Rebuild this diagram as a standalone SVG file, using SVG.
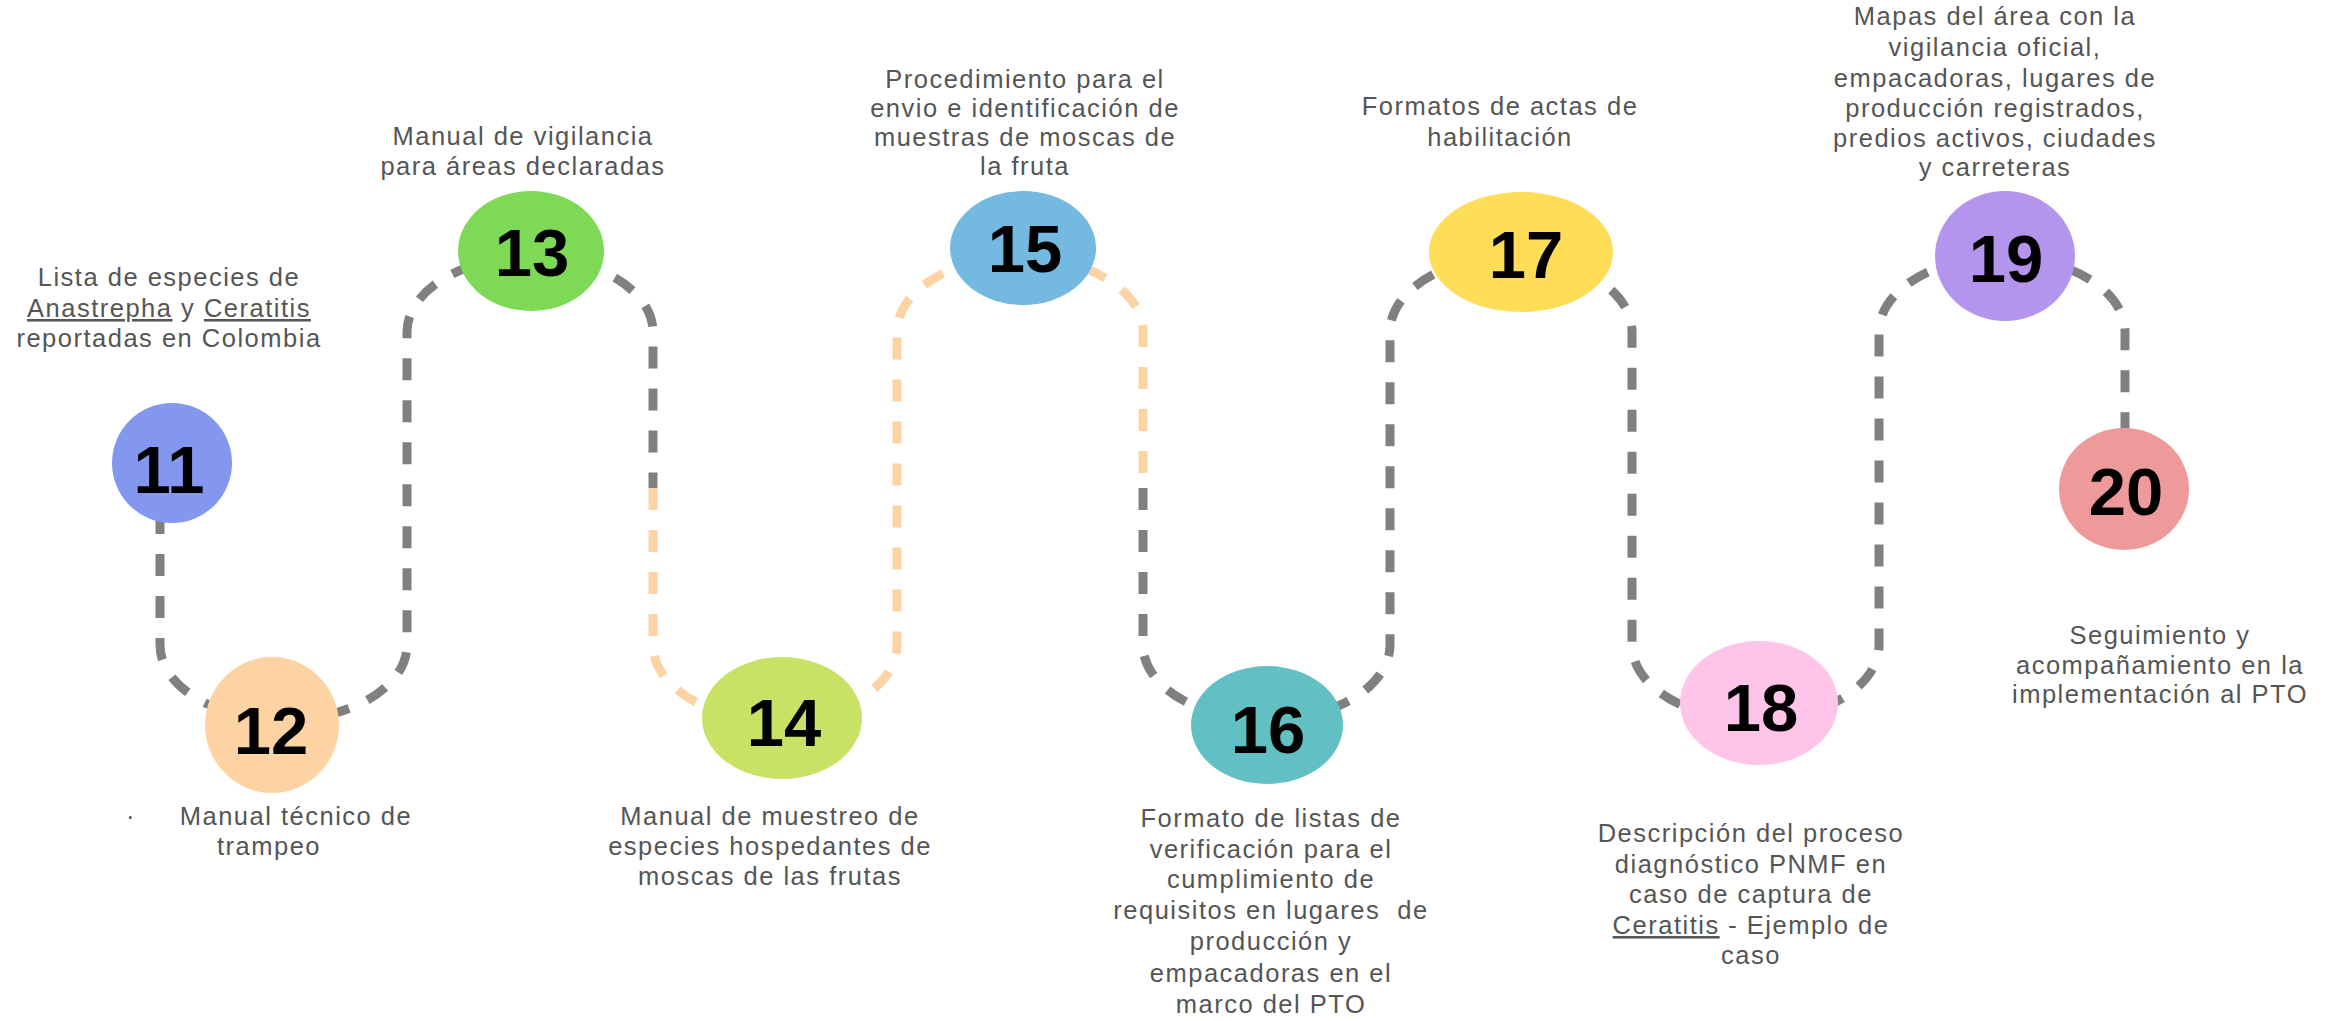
<svg xmlns="http://www.w3.org/2000/svg" width="2336" height="1021" viewBox="0 0 2336 1021">
<style>
.lbl{font-family:"Liberation Sans",Arial,sans-serif;font-size:25.5px;fill:#555555;text-anchor:middle;letter-spacing:1.5px}
.num{font-family:"Liberation Sans",Arial,sans-serif;font-weight:bold;font-size:67px;fill:#000000;text-anchor:middle}
.dash{fill:none;stroke-width:9;stroke-dasharray:22 20}
.gray{stroke:#808080}
.peach{stroke:#FDD3A3}
.u{text-decoration:underline}
</style>
<rect width="2336" height="1021" fill="#ffffff"/>
<g id="connectors">
<path class="dash gray" d="M 160 470 V 645 A 123.5 75 0 0 0 407 645 V 332 A 123 75 0 0 1 653 332 V 488"/>
<path class="dash peach" d="M 653 488 V 645 A 122 75 0 0 0 897 645 V 332 A 123 75 0 0 1 1143 332 V 488"/>
<path class="dash gray" d="M 1143 488 V 645 A 123.5 75 0 0 0 1390 645 V 332 A 121 75 0 0 1 1632 332 V 645 A 123.5 75 0 0 0 1879 645 V 332 A 123 75 0 0 1 2125 332 V 440"/>
</g>
<g id="node11">
<ellipse cx="172" cy="463" rx="60" ry="60" fill="#8497EE"/>
<text class="num" x="169" y="493">11</text>
<text class="lbl" x="169" y="286">Lista de especies de</text>
<text class="lbl" x="169" y="317"><tspan class="u">Anastrepha</tspan> y <tspan class="u">Ceratitis</tspan></text>
<text class="lbl" x="169" y="347">reportadas en Colombia</text>
</g>
<g id="node12">
<ellipse cx="272" cy="725" rx="67" ry="68" fill="#FDD3A3"/>
<text class="num" x="271" y="754">12</text>
<text class="lbl" x="131" y="825">·</text>
<text class="lbl" x="296" y="825">Manual técnico de</text>
<text class="lbl" x="269" y="855">trampeo</text>
</g>
<g id="node13">
<ellipse cx="531" cy="251" rx="73" ry="60" fill="#7ED957"/>
<text class="num" x="532" y="276">13</text>
<text class="lbl" x="523" y="145">Manual de vigilancia</text>
<text class="lbl" x="523" y="175">para áreas declaradas</text>
</g>
<g id="node14">
<ellipse cx="782" cy="718" rx="80" ry="61" fill="#C9E265"/>
<text class="num" x="784" y="746">14</text>
<text class="lbl" x="770" y="825">Manual de muestreo de</text>
<text class="lbl" x="770" y="855">especies hospedantes de</text>
<text class="lbl" x="770" y="885">moscas de las frutas</text>
</g>
<g id="node15">
<ellipse cx="1023" cy="248" rx="73" ry="57" fill="#73B9E0"/>
<text class="num" x="1025" y="272">15</text>
<text class="lbl" x="1025" y="88">Procedimiento para el</text>
<text class="lbl" x="1025" y="117">envio e identificación de</text>
<text class="lbl" x="1025" y="146">muestras de moscas de</text>
<text class="lbl" x="1025" y="175">la fruta</text>
</g>
<g id="node16">
<ellipse cx="1267" cy="725" rx="76" ry="59" fill="#62C0C4"/>
<text class="num" x="1268" y="753">16</text>
<text class="lbl" x="1271" y="827">Formato de listas de</text>
<text class="lbl" x="1271" y="858">verificación para el</text>
<text class="lbl" x="1271" y="888">cumplimiento de</text>
<text class="lbl" x="1271" y="919" xml:space="preserve">requisitos en lugares  de</text>
<text class="lbl" x="1271" y="950">producción y</text>
<text class="lbl" x="1271" y="982">empacadoras en el</text>
<text class="lbl" x="1271" y="1013">marco del PTO</text>
</g>
<g id="node17">
<ellipse cx="1521" cy="252" rx="92" ry="60" fill="#FFDD57"/>
<text class="num" x="1526" y="278">17</text>
<text class="lbl" x="1500" y="115">Formatos de actas de</text>
<text class="lbl" x="1500" y="146">habilitación</text>
</g>
<g id="node18">
<ellipse cx="1759" cy="703" rx="79" ry="62" fill="#FFC4EA"/>
<text class="num" x="1761" y="731">18</text>
<text class="lbl" x="1751" y="842">Descripción del proceso</text>
<text class="lbl" x="1751" y="873">diagnóstico PNMF en</text>
<text class="lbl" x="1751" y="903">caso de captura de</text>
<text class="lbl" x="1751" y="934"><tspan class="u">Ceratitis</tspan> - Ejemplo de</text>
<text class="lbl" x="1751" y="964">caso</text>
</g>
<g id="node19">
<ellipse cx="2005" cy="256" rx="70" ry="65" fill="#B494EC"/>
<text class="num" x="2006" y="282">19</text>
<text class="lbl" x="1995" y="25">Mapas del área con la</text>
<text class="lbl" x="1995" y="56">vigilancia oficial,</text>
<text class="lbl" x="1995" y="87">empacadoras, lugares de</text>
<text class="lbl" x="1995" y="117">producción registrados,</text>
<text class="lbl" x="1995" y="147">predios activos, ciudades</text>
<text class="lbl" x="1995" y="176">y carreteras</text>
</g>
<g id="node20">
<ellipse cx="2124" cy="489" rx="65" ry="61" fill="#EF9A9A"/>
<text class="num" x="2126" y="515">20</text>
<text class="lbl" x="2160" y="644">Seguimiento y</text>
<text class="lbl" x="2160" y="674">acompañamiento en la</text>
<text class="lbl" x="2160" y="703">implementación al PTO</text>
</g>
</svg>
